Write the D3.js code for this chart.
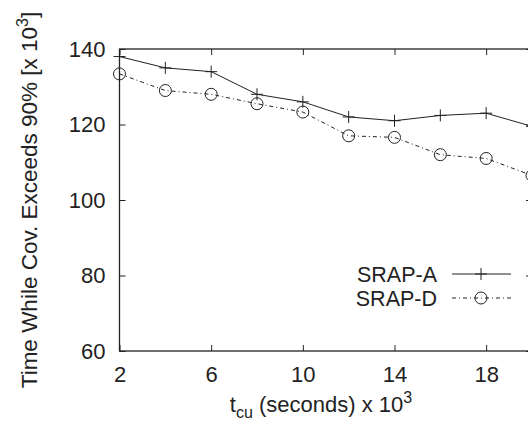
<!DOCTYPE html>
<html>
<head>
<meta charset="utf-8">
<script src="https://cdn.jsdelivr.net/npm/d3@7"></script>
<style>
  body { margin: 0; background: #fff; }
  svg { display: block; font-family: "Liberation Sans", Arial, sans-serif; }
</style>
</head>
<body>
<script>
const width = 528;
const height = 425;

// data
const tcu = [2, 4, 6, 8, 10, 12, 14, 16, 18, 20];
const srapA = [138, 135, 134, 128, 126, 122, 121, 122.4, 123, 119.5];
const srapD = [133.4, 129, 128, 125.5, 123.3, 117, 116.6, 112, 111, 106.5];
const xTicks = [2, 6, 10, 14, 18];
const yTicks = [60, 80, 100, 120, 140];

const x = d3.scaleLinear().domain([2, 20]).range([119.5, 532]);
const y = d3.scaleLinear().domain([60, 140]).range([351, 49]);

const svg = d3.select("body").append("svg")
  .attr("width", width)
  .attr("height", height);

const ink = "#222";
const fs = "22px";

// frame (right side falls just outside the picture)
svg.append("rect")
  .attr("x", x(2)).attr("y", y(140))
  .attr("width", x(20) - x(2)).attr("height", y(60) - y(140))
  .attr("fill", "none").attr("stroke", ink).attr("stroke-width", 1.3);

// ticks, inward on all four sides
const tk = 6;
svg.append("g").attr("transform", `translate(0,${y(60)})`)
  .call(d3.axisBottom(x).tickValues(xTicks).tickSize(-tk).tickPadding(tk + 9).tickFormat(d3.format("d")))
  .call(g => g.select(".domain").remove());
svg.append("g").attr("transform", `translate(0,${y(140)})`)
  .call(d3.axisTop(x).tickValues(xTicks).tickSize(-tk).tickFormat(""))
  .call(g => g.select(".domain").remove());
svg.append("g").attr("transform", `translate(${x(2)},0)`)
  .call(d3.axisLeft(y).tickValues(yTicks).tickSize(-tk).tickPadding(tk + 8))
  .call(g => g.select(".domain").remove());
svg.append("g").attr("transform", `translate(${x(20)},0)`)
  .call(d3.axisRight(y).tickValues(yTicks).tickSize(-tk).tickFormat(""))
  .call(g => g.select(".domain").remove());

svg.selectAll(".tick line").attr("stroke", ink).attr("stroke-width", 1);
svg.selectAll(".tick text")
  .attr("fill", ink)
  .style("font-family", "'Liberation Sans', Arial, sans-serif")
  .style("font-size", fs);

// series
const line = d3.line().x((d, i) => x(tcu[i])).y(d => y(d));

svg.append("path").datum(srapA)
  .attr("d", line)
  .attr("fill", "none").attr("stroke", ink).attr("stroke-width", 1);

svg.append("path").datum(srapD)
  .attr("d", line)
  .attr("fill", "none").attr("stroke", ink).attr("stroke-width", 1)
  .attr("stroke-dasharray", "4,3,1,3");

function plus(g, cx, cy) {
  g.append("path")
    .attr("d", `M${cx - 6},${cy}H${cx + 6}M${cx},${cy - 6}V${cy + 6}`)
    .attr("stroke", ink).attr("stroke-width", 1);
}
function circ(g, cx, cy) {
  g.append("circle").attr("cx", cx).attr("cy", cy).attr("r", 6)
    .attr("fill", "none").attr("stroke", ink).attr("stroke-width", 1);
}

srapA.forEach((d, i) => plus(svg, x(tcu[i]), y(d)));
srapD.forEach((d, i) => circ(svg, x(tcu[i]), y(d)));

// legend
const legend = [
  { name: "SRAP-A", dash: null, mark: plus, ly: 274 },
  { name: "SRAP-D", dash: "4,3,1,3", mark: circ, ly: 298 }
];
legend.forEach(l => {
  svg.append("text")
    .attr("x", 437).attr("y", l.ly + 8)
    .attr("text-anchor", "end")
    .attr("fill", ink)
    .style("font-size", "21.5px")
    .text(l.name);
  svg.append("line")
    .attr("x1", 452).attr("x2", 511).attr("y1", l.ly).attr("y2", l.ly)
    .attr("stroke", ink).attr("stroke-width", 1)
    .attr("stroke-dasharray", l.dash);
  l.mark(svg, 481, l.ly);
});

// axis titles
const xt = svg.append("text")
  .attr("x", 321).attr("y", 412)
  .attr("text-anchor", "middle")
  .attr("fill", ink)
  .style("font-size", fs);
xt.append("tspan").text("t");
xt.append("tspan").attr("dy", 6).style("font-size", "16px").text("cu");
xt.append("tspan").attr("dy", -6).text(" (seconds) x 10");
xt.append("tspan").attr("dy", -9).style("font-size", "16px").text("3");

const yt = svg.append("text")
  .attr("transform", "translate(37,200) rotate(-90)")
  .attr("text-anchor", "middle")
  .attr("fill", ink)
  .style("font-size", "22.5px");
yt.append("tspan").text("Time While Cov. Exceeds 90% [x 10");
yt.append("tspan").attr("dy", -9).style("font-size", "16px").text("3");
yt.append("tspan").attr("dy", 9).text("]");
</script>
</body>
</html>
